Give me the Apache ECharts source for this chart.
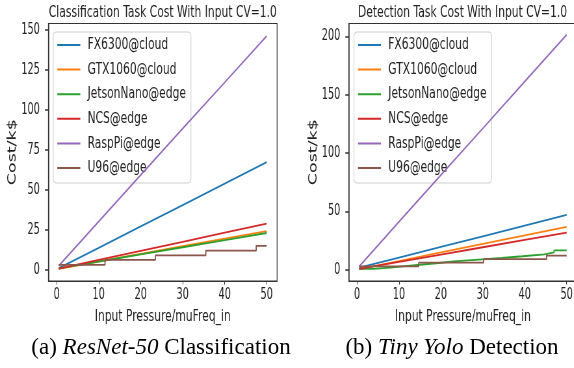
<!DOCTYPE html>
<html><head><meta charset="utf-8">
<script src="https://cdn.jsdelivr.net/npm/echarts@6/dist/echarts.min.js"></script>
<style>
html,body{margin:0;padding:0;background:#fff;width:574px;height:368px;overflow:hidden;position:relative}
#plots{position:absolute;left:0;top:0;width:883px;height:332px;transform:scaleX(0.65);transform-origin:0 0}
#caps{position:absolute;left:0;top:0;width:574px;height:368px}
</style></head>
<body><div id="caps"></div><div id="plots"></div>
<script>
// ---------- data ----------
const seriesNames = ['FX6300@cloud','GTX1060@cloud','JetsonNano@edge','NCS@edge','RaspPi@edge','U96@edge'];
const colors = ['#1f77b4','#ff7f0e','#2ca02c','#d62728','#9467bd','#8c564b'];
const xTicks = [0,10,20,30,40,50];
const clsYTicks = [0,25,50,75,100,125,150];
const detYTicks = [0,50,100,150,200];

// Classification (ResNet-50)
const clsX = [0.5,10,20,30,40,50];
const clsFX = [1.0,13.7,27.1,40.5,53.9,67.3];
const clsGTX = [0.6,5.2,10.0,14.8,19.5,24.2];
const clsJetson = [0.9,5.2,9.7,14.1,18.6,23.0];
const clsNCS = [0.8,6.2,11.9,17.5,23.2,28.9];
const clsRasp = [2.6,30.2,59.3,88.3,117.2,146.2];
const clsU96X = [0.5,11.5,23.5,35.5,47.5,50];
const clsU96 = [3.1,6.2,9.0,12.0,15.0,15.0];

// Detection (Tiny Yolo)
const detX = [0.5,10,20,30,40,50];
const detFX = [2.0,10.6,19.7,28.8,37.9,47.1];
const detGTX = [0.6,7.6,15.0,22.3,29.6,36.9];
const detNCS = [0.8,6.9,13.1,19.4,25.7,32.0];
const detRasp = [3.0,41.2,81.2,121.2,161.3,201.4];
const detJetsonX = [0.5,4,8,11.5,15,19.5,23,29,34.5,39.5,44.7,47,50];
const detJetson = [0.8,2.0,3.2,4.4,5.9,7.3,8.8,10.2,11.7,13.3,15.0,16.8,16.8];
const detU96X = [0.5,14.7,30.2,45.2,50];
const detU96 = [3.0,6.2,9.2,12.3,12.3];

const clsTitle = 'Classification Task Cost With Input CV=1.0';
const detTitle = 'Detection Task Cost With Input CV=1.0';
const xName = 'Input Pressure/muFreq_in';
const yName = 'Cost/k$';

// ---------- layout ----------
const K = 0.65;              // horizontal squeeze of the original figure
const X = v => v / K;        // original-pixel x -> chart x
const FONT = 'DejaVu Sans';
const TXT = '#222';

function pairs(xs, ys){ return xs.map((x,i)=>[x, ys[i]]); }

function axisX(gi){
  return {
    gridIndex: gi, type:'value', min:-1.975, max:52.475,
    axisLine:{show:true,onZero:false,lineStyle:{color:'#333',width:1}},
    axisTick:{show:true,length:3.5,customValues:xTicks,lineStyle:{color:'#333'}},
    axisLabel:{customValues:xTicks,fontSize:15,color:TXT,margin:7,fontFamily:FONT},
    splitLine:{show:false},
    name:xName,nameLocation:'middle',nameGap:25,
    nameTextStyle:{fontSize:16.5,color:TXT,fontFamily:FONT}
  };
}
function axisY(gi,min,max,ticks){
  return {
    gridIndex: gi, type:'value', min:min, max:max,
    axisLine:{show:true,onZero:false,lineStyle:{color:'#333',width:1.5}},
    axisTick:{show:true,length:X(3.5),customValues:ticks,lineStyle:{color:'#333',width:1.5}},
    axisLabel:{customValues:ticks,fontSize:15,color:TXT,margin:X(8.5),fontFamily:FONT},
    splitLine:{show:false},
    name:yName,nameLocation:'middle',nameGap:X(21),
    nameTextStyle:{fontSize:17.5,color:TXT,fontFamily:FONT}
  };
}
function legend(left, top){
  return {
    show:true, orient:'vertical', left:left, top:top,
    data: seriesNames, icon:'rect', itemWidth:X(23), itemHeight:2, itemGap:7.6,
    selectedMode:false,
    padding:[4.5,X(5),6.5,X(4)],
    backgroundColor:'#fff', borderColor:'#cccccc', borderWidth:1, borderRadius:4,
    textStyle:{fontSize:16.5,lineHeight:16,color:TXT,fontFamily:FONT,padding:[0,0,0,X(4)]}
  };
}

const clsData = [pairs(clsX,clsFX),pairs(clsX,clsGTX),pairs(clsX,clsJetson),pairs(clsX,clsNCS),pairs(clsX,clsRasp),pairs(clsU96X,clsU96)];
const detData = [pairs(detX,detFX),pairs(detX,detGTX),pairs(detJetsonX,detJetson),pairs(detX,detNCS),pairs(detX,detRasp),pairs(detU96X,detU96)];
const stepped = [false,false,false,false,false,true];
const detStepped = [false,false,true,false,false,true];

const series = [];
clsData.forEach((d,i)=>series.push({
  name:seriesNames[i], type:'line', xAxisIndex:0, yAxisIndex:0, data:d,
  step: stepped[i] ? 'end' : false, symbol:'none', showSymbol:false,
  color:colors[i], lineStyle:{width:1.8,color:colors[i]}, z:2+i, clip:false
}));
detData.forEach((d,i)=>series.push({
  name:seriesNames[i], type:'line', xAxisIndex:1, yAxisIndex:1, data:d,
  step: detStepped[i] ? 'end' : false, symbol:'none', showSymbol:false,
  color:colors[i], lineStyle:{width:1.8,color:colors[i]}, z:2+i, clip:false
}));

const plots = echarts.init(document.getElementById('plots'), null, {renderer:'canvas'});
plots.setOption({
  animation:false,
  backgroundColor:'#fff',
  color: colors,
  title:[
    {text:clsTitle,left:X(162.8),textAlign:'center',top:3,padding:0,textStyle:{fontSize:16.5,fontWeight:'normal',color:TXT,fontFamily:FONT,lineHeight:20}},
    {text:detTitle,left:X(462.5),textAlign:'center',top:3,padding:0,textStyle:{fontSize:16.5,fontWeight:'normal',color:TXT,fontFamily:FONT,lineHeight:20}}
  ],
  grid:[
    {left:X(48.4),top:23.5,width:X(228.7),height:257.5,show:true,borderColor:'#333',borderWidth:1.2,backgroundColor:'transparent',outerBoundsMode:'none',containLabel:false},
    {left:X(348.8),top:23.5,width:X(228.2),height:257.5,show:true,borderColor:'#333',borderWidth:1.2,backgroundColor:'transparent',outerBoundsMode:'none',containLabel:false}
  ],
  xAxis:[axisX(0),axisX(1)],
  yAxis:[axisY(0,-7,154,clsYTicks),axisY(1,-9.5,211,detYTicks)],
  legend:[legend(X(53.3),32),legend(X(354),32)],
  series: series
});

// captions (not squeezed)
const caps = echarts.init(document.getElementById('caps'), null, {renderer:'canvas'});
const capRich = {
  n:{fontFamily:'Liberation Serif',fontSize:23,fontWeight:'normal',color:'#000'},
  i:{fontFamily:'Liberation Serif',fontSize:23,fontWeight:'normal',fontStyle:'italic',color:'#000'}
};
caps.setOption({
  animation:false,
  title:[
    {text:'{n|(a) }{i|ResNet-50}{n| Classification}',left:161,textAlign:'center',top:336,padding:0,textStyle:{fontWeight:'normal',rich:capRich}},
    {text:'{n|(b) }{i|Tiny Yolo}{n| Detection}',left:452,textAlign:'center',top:336,padding:0,textStyle:{fontWeight:'normal',rich:capRich}}
  ]
});
</script>
</body></html>
